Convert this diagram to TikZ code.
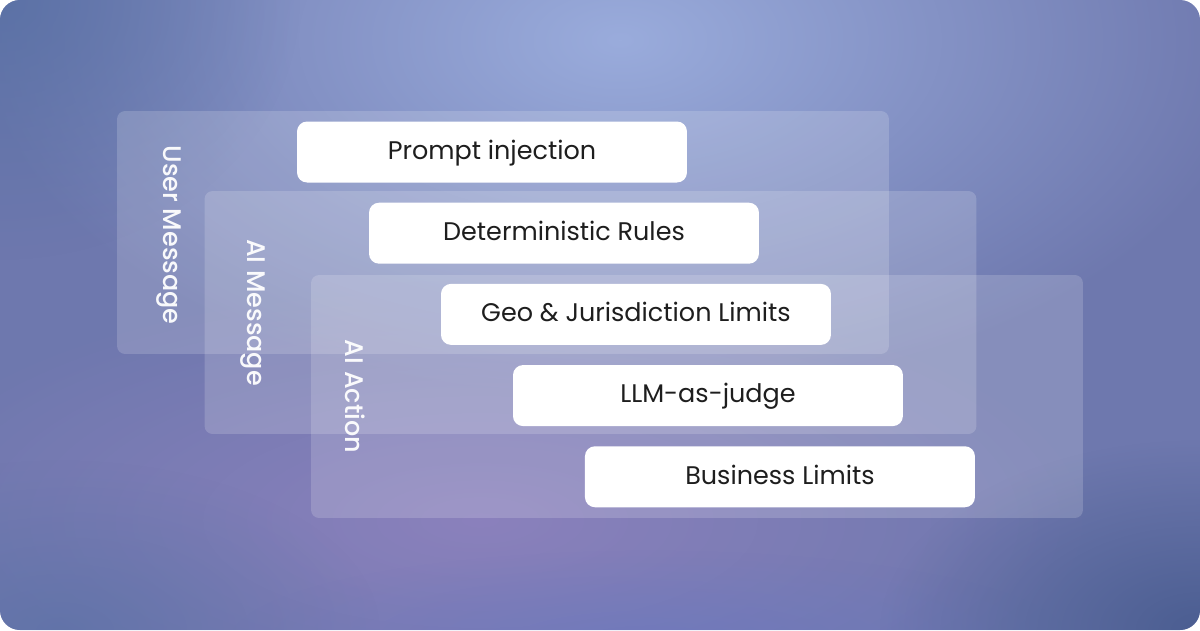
\documentclass[tikz,border=0pt]{standalone}
\usepackage{fontspec}
\setmainfont{Poppins}
\newfontfamily\titlefont{Poppins Medium}
\usetikzlibrary{positioning,fadings}
\definecolor{bgbase}{HTML}{6E78AE}
\definecolor{glowtop}{HTML}{9AACDC}
\definecolor{glowlow}{HTML}{8E82BE}
\definecolor{bottomblue}{HTML}{6A78C0}
\definecolor{corner}{HTML}{42578A}
\definecolor{cornerlight}{HTML}{5770A4}
\definecolor{pilltext}{HTML}{1E1E1E}
\tikzfading[name=glow, inner color=transparent!0, outer color=transparent!100]

\begin{document}
\begin{tikzpicture}[x=0.02cm,y=-0.02cm,
    layer/.style={fill=white,fill opacity=0.17,rounded corners=1.6mm,
                  minimum width=15.44cm,minimum height=4.86cm,inner sep=0pt},
    layertitle/.style={text=white,text opacity=0.95,rotate=-90,
                       font=\titlefont\fontsize{14.5}{18}\selectfont},
    pill/.style={fill=white,rounded corners=2mm,minimum width=7.8cm,
                 minimum height=1.22cm,inner sep=0pt,text=pilltext,
                 text height=0.84em,text depth=0pt,
                 font=\fontsize{14.5}{17}\selectfont}]
  % background
  \useasboundingbox (0,0) rectangle (1200,630);
  \fill[white] (0,0) rectangle (1200,630);
  \begin{scope}
    \clip[rounded corners=4mm] (0,0) rectangle (1200,630);
    \fill[bgbase] (0,0) rectangle (1200,630);
    \fill[glowtop,path fading=glow] (620,40) ellipse (640 and 360);
    \fill[glowlow,path fading=glow,opacity=0.9] (480,520) ellipse (620 and 240);
    \fill[bottomblue,path fading=glow,opacity=0.6] (650,640) ellipse (420 and 90);
    \fill[corner,path fading=glow,opacity=0.8] (1200,630) ellipse (320 and 190);
    \fill[cornerlight,path fading=glow,opacity=0.8] (0,0) ellipse (300 and 260);
    \fill[cornerlight,path fading=glow,opacity=0.6] (60,630) ellipse (320 and 170);
  \end{scope}

  % layers
  \node[layer] (user) at (503,232.5) {};
  \node[layer] (aimsg) at (590.5,312.5) {};
  \node[layer] (aiact) at (697,396.5) {};
  \node[layertitle] (usertitle) at ([xshift=1.04cm,yshift=-0.05cm]user.west) {User Message};
  \node[layertitle] (aimsgtitle) at ([xshift=0.98cm]aimsg.west) {AI Message};
  \node[layertitle] (aiacttitle) at ([xshift=0.88cm]aiact.west) {AI Action};

  % checks
  \node[pill] (prompt) at (492,152) {Prompt injection};
  \node[pill,below=0.39cm of prompt,xshift=1.44cm] (rules) {Deterministic Rules};
  \node[pill,below=0.39cm of rules,xshift=1.44cm] (geo) {Geo \& Jurisdiction Limits};
  \node[pill,below=0.39cm of geo,xshift=1.44cm] (judge) {LLM-as-judge};
  \node[pill,below=0.39cm of judge,xshift=1.44cm] (business) {Business Limits};
\end{tikzpicture}
\end{document}
